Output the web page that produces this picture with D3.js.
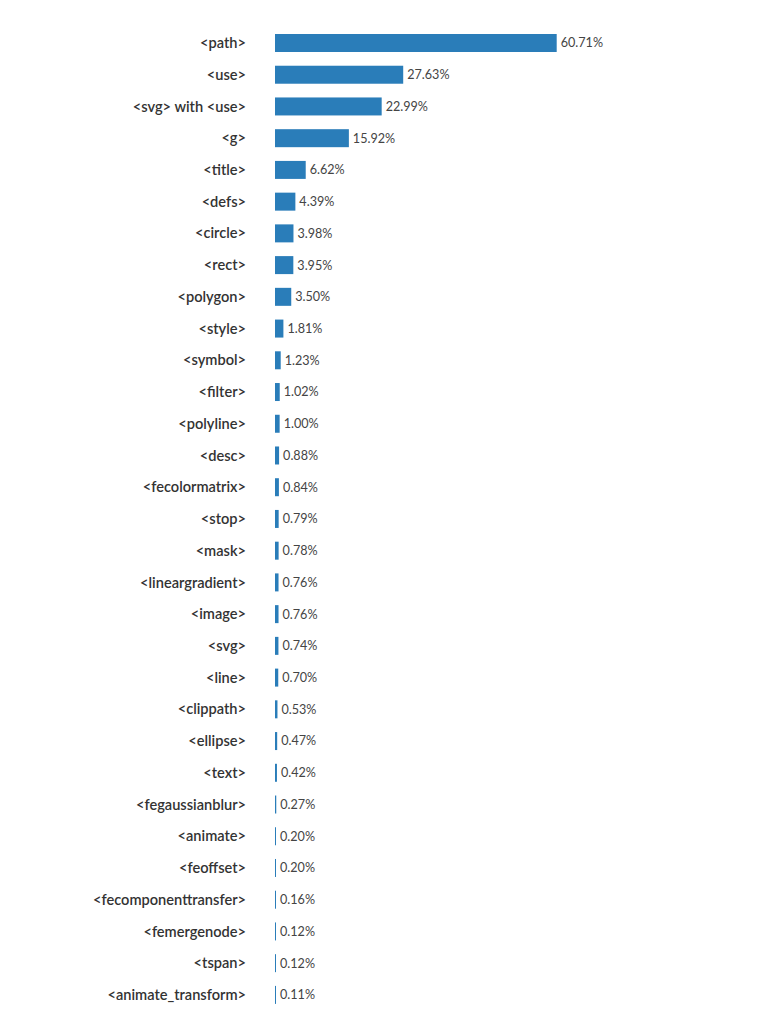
<!DOCTYPE html>
<html>
<head>
<meta charset="utf-8">
<script src="https://cdn.jsdelivr.net/npm/d3@7"></script>
<style>
html,body{margin:0;padding:0;background:#fff;}
svg{display:block;}
</style>
</head>
<body>
<div id="chart"></div>
<script>
const categories = ["<path>","<use>","<svg> with <use>","<g>","<title>","<defs>","<circle>","<rect>","<polygon>","<style>","<symbol>","<filter>","<polyline>","<desc>","<fecolormatrix>","<stop>","<mask>","<lineargradient>","<image>","<svg>","<line>","<clippath>","<ellipse>","<text>","<fegaussianblur>","<animate>","<feoffset>","<fecomponenttransfer>","<femergenode>","<tspan>","<animate_transform>"];
const values = [60.71,27.63,22.99,15.92,6.62,4.39,3.98,3.95,3.50,1.81,1.23,1.02,1.00,0.88,0.84,0.79,0.78,0.76,0.76,0.74,0.70,0.53,0.47,0.42,0.27,0.20,0.20,0.16,0.12,0.12,0.11];

const W = 778, H = 1024;
const svg = d3.select("#chart").append("svg").attr("width", W).attr("height", H);

const step = 31.73;
const y0 = 34 - step * 0.2165;
const y = d3.scaleBand().domain(categories).range([y0, y0 + categories.length * step]).paddingInner(0.433).paddingOuter(0.2165);
const x = d3.scaleLinear().domain([0, 60.71]).range([275, 556.7]);

const rows = svg.append("g").selectAll("g").data(categories).join("g");

rows.append("rect")
  .attr("x", x(0))
  .attr("y", d => y(d))
  .attr("height", y.bandwidth())
  .attr("width", (d,i) => Math.max(1, x(values[i]) - x(0)))
  .attr("fill", "#2a7db9");

rows.append("text")
  .attr("x", 246)
  .attr("y", d => y(d) + y.bandwidth()/2)
  .attr("dy", "0.35em")
  .attr("text-anchor", "end")
  .attr("font-family", "Lato, sans-serif")
  .attr("font-weight", 600)
  .attr("font-size", 14.6)
  .attr("fill", "#333")
  .text(d => d);

rows.append("text")
  .attr("x", (d,i) => x(0) + Math.max(1, x(values[i]) - x(0)) + 4)
  .attr("y", d => y(d) + y.bandwidth()/2)
  .attr("dy", "0.35em")
  .attr("font-family", "Lato, sans-serif")
  .attr("font-size", 12.6)
  .attr("fill", "#444")
  .text((d,i) => values[i].toFixed(2) + "%");
</script>
</body>
</html>
